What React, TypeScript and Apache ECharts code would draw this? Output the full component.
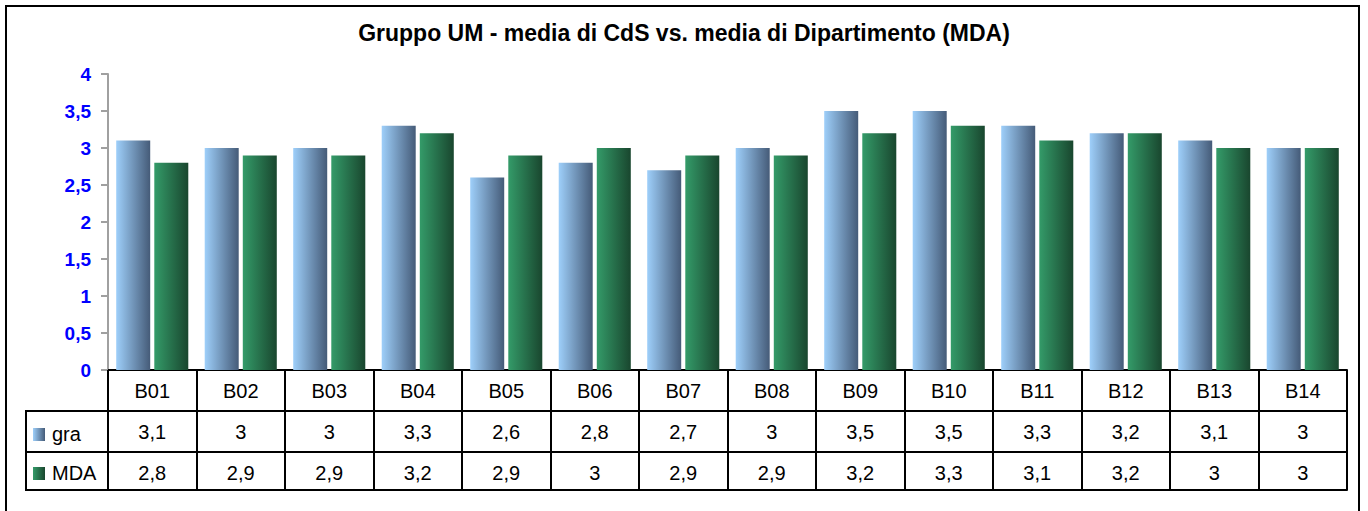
import React, { useEffect, useRef } from "react";
import * as echarts from "echarts";

const titleText = "Gruppo UM - media di CdS vs. media di Dipartimento (MDA)";
const categories = ["B01", "B02", "B03", "B04", "B05", "B06", "B07", "B08", "B09", "B10", "B11", "B12", "B13", "B14"];
const seriesNames = ["gra", "MDA"];
const graValues = [3.1, 3, 3, 3.3, 2.6, 2.8, 2.7, 3, 3.5, 3.5, 3.3, 3.2, 3.1, 3];
const mdaValues = [2.8, 2.9, 2.9, 3.2, 2.9, 3, 2.9, 2.9, 3.2, 3.3, 3.1, 3.2, 3, 3];
const yMin = 0;
const yMax = 4;
const yStep = 0.5;

const FONT = "'Liberation Sans', Arial, sans-serif";

const fmt = (v: number) => String(v).replace(".", ",");

const graGradient = () =>
  new echarts.graphic.LinearGradient(0, 0, 1, 0, [
    { offset: 0, color: "#9ECFFA" },
    { offset: 1, color: "#455B78" },
  ]);
const mdaGradient = () =>
  new echarts.graphic.LinearGradient(0, 0, 1, 0, [
    { offset: 0, color: "#349B69" },
    { offset: 1, color: "#19462E" },
  ]);

export default function App() {
  const ref = useRef<HTMLDivElement>(null);

  useEffect(() => {
    if (!ref.current) return;
    const chart = echarts.init(ref.current, undefined, { renderer: "svg" });

    const tableAxis = (offset: number, values: number[] | null) => ({
      type: "category",
      data: categories,
      position: "bottom",
      offset,
      axisLine: { show: true, lineStyle: { color: "#000", width: 2 } },
      axisTick: { show: false },
      axisLabel: values
        ? {
            show: true,
            interval: 0,
            margin: 11,
            fontSize: 20,
            fontFamily: FONT,
            color: "#000",
            formatter: (_v: string, i: number) => fmt(values[i]),
          }
        : { show: false },
      splitLine: { show: false },
    });

    chart.setOption({
      animation: false,
      backgroundColor: "#fff",
      title: {
        text: titleText,
        left: "center",
        top: 16,
        textStyle: { fontFamily: FONT, fontSize: 23, fontWeight: "bold", color: "#000" },
      },
      grid: { left: 108, right: 21, top: 74, bottom: 141, containLabel: false },
      xAxis: [
        {
          type: "category",
          data: categories,
          position: "bottom",
          axisLine: { show: true, lineStyle: { color: "#000", width: 2 } },
          axisTick: { show: true, length: 120, interval: 0, alignWithLabel: false, lineStyle: { color: "#000", width: 2 } },
          axisLabel: { show: true, interval: 0, margin: 11, fontSize: 20, fontFamily: FONT, color: "#000" },
        },
        tableAxis(41, graValues),
        tableAxis(82, mdaValues),
        tableAxis(120, null),
      ],
      yAxis: {
        type: "value",
        min: yMin,
        max: yMax,
        interval: yStep,
        axisLine: { show: true, lineStyle: { color: "#A0A0A0", width: 2 } },
        axisTick: { show: true, length: 7, lineStyle: { color: "#A0A0A0", width: 2 } },
        axisLabel: {
          margin: 17,
          fontSize: 19,
          fontWeight: "bold",
          fontFamily: FONT,
          color: "#0000FF",
          formatter: (v: number) => fmt(v),
        },
        splitLine: {
          show: true,
          lineStyle: { color: "#A0A0A0", width: 2, shadowColor: "rgba(0,0,0,0.15)", shadowOffsetY: 2, shadowBlur: 1 },
        },
      },
      series: [
        {
          name: seriesNames[0],
          type: "bar",
          data: graValues,
          barWidth: 34,
          barGap: "12%",
          itemStyle: { color: graGradient() },
        },
        {
          name: seriesNames[1],
          type: "bar",
          data: mdaValues,
          barWidth: 34,
          barGap: "12%",
          itemStyle: { color: mdaGradient() },
        },
      ],
      graphic: [
        {
          type: "rect",
          shape: { x: 6, y: 6, width: 1353, height: 600 },
          style: { fill: "none", stroke: "#000", lineWidth: 2 },
          silent: true,
        },
        {
          type: "rect",
          shape: { x: 26, y: 411, width: 82, height: 79 },
          style: { fill: "none", stroke: "#000", lineWidth: 2 },
          silent: true,
        },
        {
          type: "line",
          shape: { x1: 26, y1: 452, x2: 108, y2: 452 },
          style: { stroke: "#000", lineWidth: 2 },
          silent: true,
        },
        {
          type: "rect",
          shape: { x: 33, y: 428, width: 12, height: 13 },
          style: { fill: graGradient() },
          silent: true,
        },
        {
          type: "rect",
          shape: { x: 33, y: 467, width: 12, height: 13 },
          style: { fill: mdaGradient() },
          silent: true,
        },
        {
          type: "text",
          x: 52,
          y: 434,
          style: { text: seriesNames[0], font: `20px ${FONT}`, fill: "#000", verticalAlign: "middle" },
          silent: true,
        },
        {
          type: "text",
          x: 52,
          y: 473,
          style: { text: seriesNames[1], font: `20px ${FONT}`, fill: "#000", verticalAlign: "middle" },
          silent: true,
        },
      ],
    });

    return () => chart.dispose();
  }, []);

  return (
    <div
      ref={ref}
      style={{ position: "fixed", left: 0, top: 0, width: 1368, height: 511, background: "#fff" }}
    />
  );
}
